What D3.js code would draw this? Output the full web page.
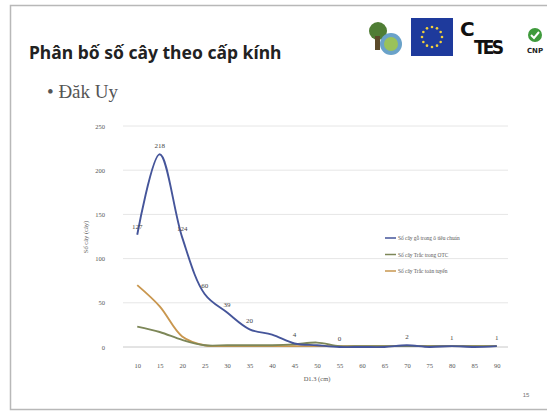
<!DOCTYPE html>
<html>
<head>
<meta charset="utf-8">
<script src="https://cdn.jsdelivr.net/npm/d3@7"></script>
<style>
  html, body { margin: 0; padding: 0; background: #fff; }
  svg { display: block; }
</style>
</head>
<body>
<svg id="slide" width="547" height="412"></svg>
<script>
// Diameter classes (D1.3, cm)
const diameterClasses = [10, 15, 20, 25, 30, 35, 40, 45, 50, 55, 60, 65, 70, 75, 80, 85, 90];

// Tree counts per diameter class
const allTrees      = [127, 218, 124, 60, 39, 20, 14, 4, 2, 0, 0, 0, 2, 0, 1, 0, 1];
const rosewoodPlots = [23, 17, 8, 2, 2, 2, 2, 3, 5, 1, 1, 1, 1, 1, 1, 1, 1];
const rosewoodLine  = [70, 46, 12, 2, 1, 1, 1, 1, 1, 1, 1, 1, 1, 1, 1, 1, 1];

// Classes whose value is printed on the main series
const labelledClasses = [10, 15, 20, 25, 30, 35, 45, 55, 70, 80, 90];

const seriesNames = ["Số cây gỗ trong ô tiêu chuẩn", "Số cây Trắc trong OTC", "Số cây Trắc toàn tuyến"];
const seriesColors = ["#45559a", "#7d8758", "#c9974f"];
const yTicks = [0, 50, 100, 150, 200, 250];

const svg = d3.select("#slide");

// slide frame
svg.append("rect")
  .attr("x", 10.5).attr("y", 5.5).attr("width", 560).attr("height", 404)
  .attr("fill", "#fff").attr("stroke", "#b8b8b8").attr("stroke-width", 1.5);

// heading
svg.append("text")
  .attr("x", 29).attr("y", 59)
  .attr("font-family", "Noto Sans, Open Sans, sans-serif")
  .attr("font-weight", "bold").attr("font-size", 17.5)
  .attr("fill", "#222")
  .text("Phân bố số cây theo cấp kính");

svg.append("text")
  .attr("x", 47).attr("y", 98)
  .attr("font-family", "Liberation Serif, DejaVu Serif, serif")
  .attr("font-size", 19).attr("fill", "#555")
  .text("• Đăk Uy");

// partner logos
const logos = svg.append("g");
logos.append("circle").attr("cx", 378).attr("cy", 31).attr("r", 9).attr("fill", "#4f7d35");
logos.append("circle").attr("cx", 391).attr("cy", 44).attr("r", 11).attr("fill", "#6aa2c9");
logos.append("circle").attr("cx", 391).attr("cy", 44).attr("r", 7).attr("fill", "#9ac25a");
logos.append("rect").attr("x", 375).attr("y", 36).attr("width", 5).attr("height", 14).attr("fill", "#5b4a2a");
logos.append("rect").attr("x", 411).attr("y", 18).attr("width", 42).attr("height", 38).attr("fill", "#1e3a9c");
d3.range(12).forEach(i => {
  const a = i / 12 * 2 * Math.PI;
  logos.append("circle")
    .attr("cx", 432 + 10 * Math.cos(a)).attr("cy", 37 + 10 * Math.sin(a))
    .attr("r", 1.3).attr("fill", "#f2d23a");
});
logos.append("text").attr("x", 460).attr("y", 36)
  .attr("font-family", "DejaVu Sans, sans-serif").attr("font-weight", "bold")
  .attr("font-size", 20).attr("fill", "#111").text("C");
logos.append("text").attr("x", 474).attr("y", 54)
  .attr("font-family", "DejaVu Sans Condensed, DejaVu Sans, sans-serif").attr("font-weight", "bold")
  .attr("font-size", 19).attr("fill", "#111").attr("textLength", 30).text("TES");
logos.append("circle").attr("cx", 535).attr("cy", 35).attr("r", 7).attr("fill", "#3f9a3c");
logos.append("path").attr("d", "M531,35 l3,3 l5,-6").attr("fill", "none").attr("stroke", "#fff").attr("stroke-width", 2);
logos.append("text").attr("x", 535).attr("y", 53).attr("text-anchor", "middle")
  .attr("font-family", "DejaVu Sans, sans-serif").attr("font-weight", "bold")
  .attr("font-size", 7).attr("fill", "#222").text("CNP");

// chart scales
const x = d3.scalePoint().domain(diameterClasses).range([126, 508]).padding(0.5);
const y = d3.scaleLinear().domain([0, 250]).range([347, 126]);

const chart = svg.append("g");

// horizontal gridlines
chart.append("g")
  .selectAll("line").data(yTicks).join("line")
  .attr("x1", 123).attr("x2", 508)
  .attr("y1", d => y(d)).attr("y2", d => y(d))
  .attr("stroke", d => d === 0 ? "#c8c8c8" : "#e6e6e6").attr("stroke-width", 1);

// y axis labels
const yAxis = d3.axisLeft(y).tickValues(yTicks).tickSize(0).tickPadding(7);
chart.append("g").attr("transform", "translate(112,0)").call(yAxis)
  .call(g => g.select(".domain").remove())
  .call(g => g.selectAll("text").attr("font-size", 6.5).attr("fill", "#555")
    .attr("font-family", "Liberation Serif, serif"));

// x axis labels
const xAxis = d3.axisBottom(x).tickSize(0).tickPadding(6);
chart.append("g").attr("transform", "translate(0,357)").call(xAxis)
  .call(g => g.select(".domain").remove())
  .call(g => g.selectAll("text").attr("font-size", 6.5).attr("fill", "#555")
    .attr("font-family", "Liberation Serif, serif"));

// axis titles
chart.append("text")
  .attr("x", 317).attr("y", 381).attr("text-anchor", "middle")
  .attr("font-size", 6.5).attr("fill", "#555").attr("font-family", "Liberation Serif, serif")
  .text("D1.3 (cm)");
chart.append("text")
  .attr("transform", "translate(88,237) rotate(-90)").attr("text-anchor", "middle")
  .attr("font-size", 6.5).attr("fill", "#555").attr("font-family", "Liberation Serif, serif")
  .text("Số cây (cây)");

// series lines
const series = [allTrees, rosewoodPlots, rosewoodLine];
const line = d3.line()
  .x((d, i) => x(diameterClasses[i]))
  .y(d => y(d))
  .curve(d3.curveCatmullRom.alpha(0.5));

chart.append("g")
  .selectAll("path").data(series.slice().reverse()).join("path")
  .attr("d", d => line(d))
  .attr("fill", "none")
  .attr("stroke", (d, i) => seriesColors[series.length - 1 - i])
  .attr("stroke-width", 1.9)
  .attr("stroke-linejoin", "round");

// value labels on the main series
chart.append("g")
  .selectAll("text")
  .data(diameterClasses.map((c, i) => ({ c, v: allTrees[i] })).filter(d => labelledClasses.includes(d.c)))
  .join("text")
  .attr("x", d => x(d.c)).attr("y", d => y(d.v) - 6)
  .attr("text-anchor", "middle")
  .attr("font-size", 7).attr("fill", "#444").attr("font-family", "Liberation Serif, serif")
  .text(d => d.v);

// legend
const legend = chart.append("g").attr("transform", "translate(385,238)");
seriesNames.forEach((name, i) => {
  const row = legend.append("g").attr("transform", `translate(0,${i * 16.5})`);
  row.append("line").attr("x1", 0).attr("x2", 11).attr("y1", 0).attr("y2", 0)
    .attr("stroke", seriesColors[i]).attr("stroke-width", 1.5);
  row.append("text").attr("x", 13).attr("y", 2)
    .attr("font-size", 5.4).attr("fill", "#555").attr("font-family", "Liberation Serif, serif")
    .text(name);
});

// slide number
svg.append("text")
  .attr("x", 526).attr("y", 397).attr("text-anchor", "middle")
  .attr("font-size", 6).attr("fill", "#777").attr("font-family", "Liberation Sans, sans-serif")
  .text("15");
</script>
</body>
</html>
